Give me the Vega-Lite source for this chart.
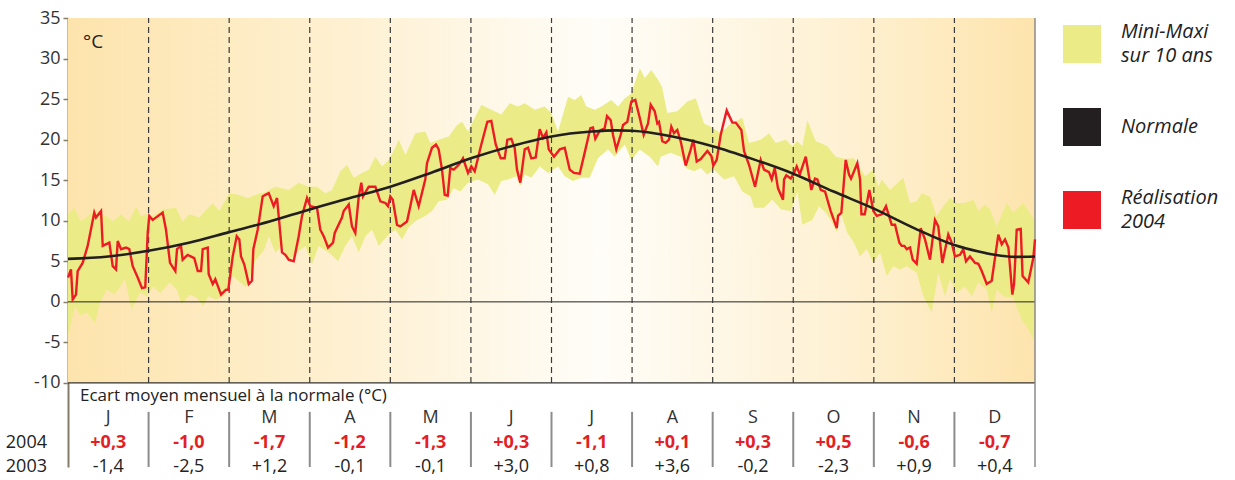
{
 "$schema": "https://vega.github.io/schema/vega-lite/v6.json",
 "width": 967, "height": 449,
 "autosize": {"type": "none"},
 "padding": {"left": 68, "top": 18, "right": 200, "bottom": 13},
 "background": "white",
 "config": {
  "font": "Open Sans",
  "view": {"stroke": null},
  "locale": {"number": {"decimal": ",", "thousands": " ", "grouping": [3], "currency": ["", " €"], "minus": "-"}}
 },
 "datasets": {
  "vide": [{}],
  "mois": [
   {"mois": "J", "debut": 0, "centre": 0.5, "e2004": 0.3, "e2003": -1.4},
   {"mois": "F", "debut": 1, "centre": 1.5, "e2004": -1.0, "e2003": -2.5},
   {"mois": "M", "debut": 2, "centre": 2.5, "e2004": -1.7, "e2003": 1.2},
   {"mois": "A", "debut": 3, "centre": 3.5, "e2004": -1.2, "e2003": -0.1},
   {"mois": "M", "debut": 4, "centre": 4.5, "e2004": -1.3, "e2003": -0.1},
   {"mois": "J", "debut": 5, "centre": 5.5, "e2004": 0.3, "e2003": 3.0},
   {"mois": "J", "debut": 6, "centre": 6.5, "e2004": -1.1, "e2003": 0.8},
   {"mois": "A", "debut": 7, "centre": 7.5, "e2004": 0.1, "e2003": 3.6},
   {"mois": "S", "debut": 8, "centre": 8.5, "e2004": 0.3, "e2003": -0.2},
   {"mois": "O", "debut": 9, "centre": 9.5, "e2004": 0.5, "e2003": -2.3},
   {"mois": "N", "debut": 10, "centre": 10.5, "e2004": -0.6, "e2003": 0.9},
   {"mois": "D", "debut": 11, "centre": 11.5, "e2004": -0.7, "e2003": 0.4}
  ],
  "normale": [
   {"t": 0, "v": 5.3}, {"t": 0.5, "v": 5.6}, {"t": 1, "v": 6.3}, {"t": 1.5, "v": 7.3}, {"t": 2, "v": 8.6}, {"t": 2.5, "v": 9.9}, {"t": 3, "v": 11.4}, {"t": 3.5, "v": 12.8}, {"t": 4, "v": 14.2}, {"t": 4.5, "v": 15.9}, {"t": 5, "v": 17.7}, {"t": 5.5, "v": 19.2}, {"t": 6, "v": 20.4}, {"t": 6.5, "v": 21.0}, {"t": 6.8, "v": 21.15}, {"t": 7, "v": 21.1}, {"t": 7.5, "v": 20.4}, {"t": 8, "v": 19.2}, {"t": 8.5, "v": 17.6}, {"t": 9, "v": 15.8}, {"t": 9.5, "v": 13.6}, {"t": 10, "v": 11.5}, {"t": 10.5, "v": 9.1}, {"t": 11, "v": 7.0}, {"t": 11.3, "v": 6.2}, {"t": 11.5, "v": 5.8}, {"t": 11.75, "v": 5.55}, {"t": 12, "v": 5.6}
  ],
  "maxi": [
   {"t": 0, "v": 10.8}, {"t": 0.078, "v": 11.6}, {"t": 0.161, "v": 9.9}, {"t": 0.223, "v": 10.4}, {"t": 0.326, "v": 11.3}, {"t": 0.472, "v": 10.6}, {"t": 0.555, "v": 9.9}, {"t": 0.658, "v": 10.8}, {"t": 0.761, "v": 9.9}, {"t": 0.844, "v": 11.8}, {"t": 0.906, "v": 10.6}, {"t": 0.968, "v": 10.8}, {"t": 1.051, "v": 10.6}, {"t": 1.175, "v": 11.4}, {"t": 1.34, "v": 11.6}, {"t": 1.423, "v": 9.9}, {"t": 1.505, "v": 10.8}, {"t": 1.629, "v": 10.4}, {"t": 1.796, "v": 12.2}, {"t": 1.878, "v": 11.2}, {"t": 2.002, "v": 13.4}, {"t": 2.106, "v": 13.2}, {"t": 2.23, "v": 12.8}, {"t": 2.333, "v": 13.2}, {"t": 2.436, "v": 13.5}, {"t": 2.573, "v": 14.2}, {"t": 2.656, "v": 14.0}, {"t": 2.739, "v": 13.8}, {"t": 2.863, "v": 14.7}, {"t": 2.987, "v": 14.2}, {"t": 3.09, "v": 14.2}, {"t": 3.193, "v": 13.4}, {"t": 3.276, "v": 13.8}, {"t": 3.379, "v": 16.1}, {"t": 3.462, "v": 16.9}, {"t": 3.546, "v": 15.3}, {"t": 3.649, "v": 15.9}, {"t": 3.732, "v": 16.3}, {"t": 3.814, "v": 17.9}, {"t": 3.897, "v": 16.7}, {"t": 3.98, "v": 17.5}, {"t": 4.062, "v": 19.0}, {"t": 4.104, "v": 20.0}, {"t": 4.186, "v": 18.1}, {"t": 4.31, "v": 20.8}, {"t": 4.434, "v": 21.0}, {"t": 4.496, "v": 19.6}, {"t": 4.6, "v": 20.0}, {"t": 4.725, "v": 20.4}, {"t": 4.828, "v": 21.8}, {"t": 4.89, "v": 22.2}, {"t": 4.964, "v": 21.0}, {"t": 5.129, "v": 24.3}, {"t": 5.253, "v": 23.7}, {"t": 5.377, "v": 23.1}, {"t": 5.482, "v": 24.5}, {"t": 5.584, "v": 24.1}, {"t": 5.668, "v": 24.5}, {"t": 5.792, "v": 23.7}, {"t": 5.916, "v": 24.1}, {"t": 5.998, "v": 23.3}, {"t": 6.081, "v": 21.0}, {"t": 6.205, "v": 25.3}, {"t": 6.288, "v": 24.9}, {"t": 6.37, "v": 25.5}, {"t": 6.432, "v": 24.1}, {"t": 6.536, "v": 23.7}, {"t": 6.618, "v": 24.1}, {"t": 6.742, "v": 24.9}, {"t": 6.826, "v": 24.1}, {"t": 6.909, "v": 25.1}, {"t": 6.991, "v": 25.7}, {"t": 7.095, "v": 28.8}, {"t": 7.157, "v": 27.6}, {"t": 7.239, "v": 28.6}, {"t": 7.322, "v": 27.4}, {"t": 7.372, "v": 26.5}, {"t": 7.437, "v": 23.3}, {"t": 7.561, "v": 23.5}, {"t": 7.686, "v": 24.7}, {"t": 7.79, "v": 25.1}, {"t": 7.893, "v": 22.0}, {"t": 7.976, "v": 21.6}, {"t": 8.1, "v": 20.8}, {"t": 8.216, "v": 21.9}, {"t": 8.368, "v": 22.7}, {"t": 8.451, "v": 19.6}, {"t": 8.596, "v": 20.0}, {"t": 8.699, "v": 20.8}, {"t": 8.782, "v": 19.6}, {"t": 8.907, "v": 20.0}, {"t": 8.988, "v": 19.2}, {"t": 9.051, "v": 19.8}, {"t": 9.113, "v": 19.2}, {"t": 9.175, "v": 22.4}, {"t": 9.279, "v": 19.8}, {"t": 9.341, "v": 19.6}, {"t": 9.423, "v": 19.2}, {"t": 9.527, "v": 17.9}, {"t": 9.651, "v": 17.6}, {"t": 9.754, "v": 17.7}, {"t": 9.891, "v": 15.5}, {"t": 9.994, "v": 16.3}, {"t": 10.056, "v": 14.2}, {"t": 10.098, "v": 15.1}, {"t": 10.201, "v": 13.8}, {"t": 10.366, "v": 15.3}, {"t": 10.449, "v": 12.2}, {"t": 10.532, "v": 12.4}, {"t": 10.594, "v": 13.4}, {"t": 10.697, "v": 13.0}, {"t": 10.78, "v": 10.6}, {"t": 10.862, "v": 11.8}, {"t": 10.946, "v": 12.8}, {"t": 11.029, "v": 12.2}, {"t": 11.132, "v": 12.2}, {"t": 11.235, "v": 12.6}, {"t": 11.297, "v": 11.2}, {"t": 11.38, "v": 12.0}, {"t": 11.442, "v": 11.4}, {"t": 11.525, "v": 9.3}, {"t": 11.649, "v": 12.2}, {"t": 11.731, "v": 11.0}, {"t": 11.855, "v": 12.2}, {"t": 11.959, "v": 10.6}, {"t": 12, "v": 10.1}
  ],
  "mini": [
   {"t": 0, "v": -4.2}, {"t": 0.087, "v": -0.5}, {"t": 0.149, "v": -1.7}, {"t": 0.232, "v": -1.3}, {"t": 0.335, "v": -2.6}, {"t": 0.397, "v": -0.1}, {"t": 0.48, "v": 1.5}, {"t": 0.583, "v": 0.9}, {"t": 0.707, "v": 2.8}, {"t": 0.791, "v": -0.9}, {"t": 0.894, "v": 1.2}, {"t": 0.977, "v": 0.7}, {"t": 1.059, "v": 1.9}, {"t": 1.142, "v": 1.1}, {"t": 1.266, "v": 2.4}, {"t": 1.349, "v": 1.5}, {"t": 1.411, "v": -0.3}, {"t": 1.514, "v": 0.9}, {"t": 1.597, "v": 0.5}, {"t": 1.679, "v": -0.5}, {"t": 1.741, "v": 0.7}, {"t": 1.837, "v": 0.3}, {"t": 1.95, "v": 0.8}, {"t": 2.044, "v": 3.2}, {"t": 2.209, "v": 1.8}, {"t": 2.333, "v": 5.2}, {"t": 2.43, "v": 6.3}, {"t": 2.491, "v": 8.1}, {"t": 2.573, "v": 6.1}, {"t": 2.656, "v": 6.9}, {"t": 2.739, "v": 5.0}, {"t": 2.842, "v": 6.1}, {"t": 2.945, "v": 6.9}, {"t": 3.028, "v": 4.6}, {"t": 3.111, "v": 6.9}, {"t": 3.235, "v": 6.1}, {"t": 3.351, "v": 5.0}, {"t": 3.441, "v": 6.9}, {"t": 3.524, "v": 8.1}, {"t": 3.608, "v": 6.1}, {"t": 3.69, "v": 8.1}, {"t": 3.773, "v": 8.9}, {"t": 3.856, "v": 6.9}, {"t": 3.959, "v": 8.1}, {"t": 4.062, "v": 8.9}, {"t": 4.145, "v": 7.7}, {"t": 4.228, "v": 9.2}, {"t": 4.331, "v": 10.1}, {"t": 4.434, "v": 10.6}, {"t": 4.517, "v": 11.2}, {"t": 4.6, "v": 12.4}, {"t": 4.703, "v": 12.6}, {"t": 4.787, "v": 14.0}, {"t": 4.87, "v": 13.6}, {"t": 4.964, "v": 14.7}, {"t": 5.088, "v": 15.1}, {"t": 5.212, "v": 14.5}, {"t": 5.295, "v": 13.2}, {"t": 5.377, "v": 14.9}, {"t": 5.46, "v": 15.1}, {"t": 5.563, "v": 15.5}, {"t": 5.61, "v": 14.3}, {"t": 5.668, "v": 15.7}, {"t": 5.75, "v": 15.3}, {"t": 5.854, "v": 16.7}, {"t": 5.956, "v": 15.9}, {"t": 6.081, "v": 16.7}, {"t": 6.164, "v": 15.5}, {"t": 6.267, "v": 14.9}, {"t": 6.37, "v": 15.3}, {"t": 6.474, "v": 15.3}, {"t": 6.577, "v": 17.7}, {"t": 6.701, "v": 18.8}, {"t": 6.784, "v": 17.9}, {"t": 6.909, "v": 19.4}, {"t": 6.991, "v": 17.5}, {"t": 7.095, "v": 18.8}, {"t": 7.219, "v": 17.9}, {"t": 7.322, "v": 16.7}, {"t": 7.355, "v": 17.9}, {"t": 7.479, "v": 18.4}, {"t": 7.603, "v": 17.9}, {"t": 7.666, "v": 16.5}, {"t": 7.769, "v": 16.1}, {"t": 7.852, "v": 16.5}, {"t": 7.934, "v": 15.7}, {"t": 8.017, "v": 16.3}, {"t": 8.141, "v": 15.1}, {"t": 8.265, "v": 15.5}, {"t": 8.368, "v": 13.6}, {"t": 8.472, "v": 13.0}, {"t": 8.513, "v": 11.6}, {"t": 8.637, "v": 11.6}, {"t": 8.74, "v": 12.6}, {"t": 8.85, "v": 11.4}, {"t": 8.969, "v": 11.2}, {"t": 9.051, "v": 13.6}, {"t": 9.113, "v": 9.5}, {"t": 9.237, "v": 10.1}, {"t": 9.32, "v": 11.8}, {"t": 9.403, "v": 11.0}, {"t": 9.465, "v": 10.1}, {"t": 9.54, "v": 8.6}, {"t": 9.589, "v": 11.0}, {"t": 9.671, "v": 8.5}, {"t": 9.754, "v": 7.3}, {"t": 9.829, "v": 5.6}, {"t": 9.912, "v": 6.5}, {"t": 9.994, "v": 4.8}, {"t": 10.077, "v": 6.1}, {"t": 10.16, "v": 3.2}, {"t": 10.242, "v": 4.4}, {"t": 10.325, "v": 4.0}, {"t": 10.408, "v": 4.4}, {"t": 10.532, "v": 3.6}, {"t": 10.615, "v": 0.7}, {"t": 10.718, "v": -1.3}, {"t": 10.8, "v": 3.6}, {"t": 10.883, "v": 0.7}, {"t": 10.946, "v": 2.8}, {"t": 11.029, "v": 1.1}, {"t": 11.132, "v": 1.9}, {"t": 11.214, "v": 0.7}, {"t": 11.297, "v": 2.4}, {"t": 11.401, "v": 1.5}, {"t": 11.463, "v": -1.3}, {"t": 11.525, "v": 1.5}, {"t": 11.607, "v": 0.7}, {"t": 11.731, "v": 0.5}, {"t": 11.835, "v": -2.2}, {"t": 11.897, "v": -3.0}, {"t": 11.979, "v": -4.6}, {"t": 12, "v": -3.0}
  ],
  "realisation": [
   {"t": 0, "v": 3.0}, {"t": 0.037, "v": 4.0}, {"t": 0.058, "v": 0.3}, {"t": 0.099, "v": 0.9}, {"t": 0.12, "v": 3.8}, {"t": 0.182, "v": 4.8}, {"t": 0.244, "v": 6.9}, {"t": 0.326, "v": 11.0}, {"t": 0.347, "v": 10.4}, {"t": 0.41, "v": 11.2}, {"t": 0.431, "v": 6.9}, {"t": 0.513, "v": 7.3}, {"t": 0.555, "v": 4.4}, {"t": 0.596, "v": 4.0}, {"t": 0.617, "v": 7.5}, {"t": 0.658, "v": 6.5}, {"t": 0.72, "v": 6.7}, {"t": 0.761, "v": 6.5}, {"t": 0.803, "v": 4.4}, {"t": 0.865, "v": 3.0}, {"t": 0.918, "v": 1.7}, {"t": 0.959, "v": 1.8}, {"t": 0.989, "v": 8.5}, {"t": 1.009, "v": 10.6}, {"t": 1.051, "v": 10.1}, {"t": 1.175, "v": 11.0}, {"t": 1.216, "v": 8.9}, {"t": 1.266, "v": 4.8}, {"t": 1.332, "v": 3.8}, {"t": 1.353, "v": 6.5}, {"t": 1.402, "v": 6.9}, {"t": 1.423, "v": 5.2}, {"t": 1.485, "v": 5.8}, {"t": 1.567, "v": 5.4}, {"t": 1.61, "v": 3.8}, {"t": 1.651, "v": 3.8}, {"t": 1.672, "v": 6.5}, {"t": 1.734, "v": 6.7}, {"t": 1.746, "v": 3.4}, {"t": 1.796, "v": 2.2}, {"t": 1.828, "v": 2.8}, {"t": 1.899, "v": 0.9}, {"t": 1.961, "v": 1.5}, {"t": 1.989, "v": 1.5}, {"t": 2.044, "v": 5.6}, {"t": 2.094, "v": 8.1}, {"t": 2.126, "v": 7.7}, {"t": 2.147, "v": 5.6}, {"t": 2.188, "v": 4.6}, {"t": 2.243, "v": 2.2}, {"t": 2.283, "v": 2.6}, {"t": 2.3, "v": 6.5}, {"t": 2.354, "v": 8.9}, {"t": 2.416, "v": 13.0}, {"t": 2.449, "v": 13.2}, {"t": 2.491, "v": 13.4}, {"t": 2.553, "v": 11.8}, {"t": 2.594, "v": 12.8}, {"t": 2.656, "v": 6.1}, {"t": 2.697, "v": 5.8}, {"t": 2.739, "v": 5.2}, {"t": 2.801, "v": 5.0}, {"t": 2.863, "v": 8.1}, {"t": 2.904, "v": 10.6}, {"t": 2.966, "v": 12.8}, {"t": 3.007, "v": 11.8}, {"t": 3.09, "v": 11.6}, {"t": 3.131, "v": 8.9}, {"t": 3.173, "v": 8.1}, {"t": 3.227, "v": 6.7}, {"t": 3.289, "v": 7.3}, {"t": 3.31, "v": 8.5}, {"t": 3.4, "v": 10.4}, {"t": 3.421, "v": 11.2}, {"t": 3.484, "v": 12.0}, {"t": 3.524, "v": 9.3}, {"t": 3.565, "v": 8.5}, {"t": 3.608, "v": 13.0}, {"t": 3.64, "v": 14.7}, {"t": 3.661, "v": 13.0}, {"t": 3.732, "v": 14.2}, {"t": 3.814, "v": 14.2}, {"t": 3.876, "v": 12.4}, {"t": 3.938, "v": 12.2}, {"t": 3.971, "v": 11.8}, {"t": 4.0, "v": 13.0}, {"t": 4.03, "v": 12.6}, {"t": 4.083, "v": 9.5}, {"t": 4.124, "v": 9.3}, {"t": 4.207, "v": 9.9}, {"t": 4.248, "v": 11.8}, {"t": 4.29, "v": 13.8}, {"t": 4.352, "v": 11.8}, {"t": 4.434, "v": 15.1}, {"t": 4.455, "v": 17.1}, {"t": 4.517, "v": 19.0}, {"t": 4.567, "v": 19.4}, {"t": 4.6, "v": 18.8}, {"t": 4.641, "v": 16.3}, {"t": 4.675, "v": 13.2}, {"t": 4.712, "v": 13.1}, {"t": 4.744, "v": 16.5}, {"t": 4.787, "v": 16.3}, {"t": 4.849, "v": 16.9}, {"t": 4.902, "v": 17.7}, {"t": 4.964, "v": 15.9}, {"t": 5.005, "v": 16.7}, {"t": 5.047, "v": 16.1}, {"t": 5.129, "v": 19.4}, {"t": 5.204, "v": 22.2}, {"t": 5.253, "v": 22.3}, {"t": 5.308, "v": 19.4}, {"t": 5.37, "v": 17.7}, {"t": 5.419, "v": 17.7}, {"t": 5.452, "v": 20.0}, {"t": 5.501, "v": 20.1}, {"t": 5.543, "v": 19.0}, {"t": 5.572, "v": 16.3}, {"t": 5.613, "v": 14.7}, {"t": 5.668, "v": 18.8}, {"t": 5.709, "v": 19.0}, {"t": 5.75, "v": 17.7}, {"t": 5.804, "v": 17.8}, {"t": 5.854, "v": 21.3}, {"t": 5.895, "v": 20.2}, {"t": 5.936, "v": 20.9}, {"t": 5.966, "v": 18.8}, {"t": 6.031, "v": 17.9}, {"t": 6.102, "v": 18.8}, {"t": 6.164, "v": 19.0}, {"t": 6.226, "v": 16.3}, {"t": 6.279, "v": 15.9}, {"t": 6.35, "v": 15.8}, {"t": 6.412, "v": 18.4}, {"t": 6.482, "v": 21.4}, {"t": 6.515, "v": 21.5}, {"t": 6.544, "v": 20.1}, {"t": 6.598, "v": 21.1}, {"t": 6.66, "v": 21.4}, {"t": 6.689, "v": 22.9}, {"t": 6.735, "v": 22.4}, {"t": 6.763, "v": 20.6}, {"t": 6.804, "v": 18.8}, {"t": 6.859, "v": 20.6}, {"t": 6.888, "v": 21.8}, {"t": 6.941, "v": 22.2}, {"t": 6.991, "v": 24.7}, {"t": 7.04, "v": 24.9}, {"t": 7.095, "v": 22.7}, {"t": 7.144, "v": 20.6}, {"t": 7.198, "v": 22.0}, {"t": 7.231, "v": 24.3}, {"t": 7.281, "v": 23.5}, {"t": 7.313, "v": 22.0}, {"t": 7.334, "v": 22.2}, {"t": 7.375, "v": 19.8}, {"t": 7.417, "v": 19.6}, {"t": 7.458, "v": 20.0}, {"t": 7.487, "v": 21.6}, {"t": 7.52, "v": 20.8}, {"t": 7.561, "v": 21.2}, {"t": 7.603, "v": 19.8}, {"t": 7.666, "v": 16.8}, {"t": 7.728, "v": 18.8}, {"t": 7.76, "v": 20.0}, {"t": 7.802, "v": 17.3}, {"t": 7.852, "v": 17.6}, {"t": 7.934, "v": 18.6}, {"t": 7.983, "v": 18.0}, {"t": 8.008, "v": 16.8}, {"t": 8.05, "v": 17.5}, {"t": 8.1, "v": 20.6}, {"t": 8.174, "v": 23.6}, {"t": 8.244, "v": 22.1}, {"t": 8.286, "v": 22.1}, {"t": 8.356, "v": 21.2}, {"t": 8.389, "v": 18.6}, {"t": 8.451, "v": 16.9}, {"t": 8.526, "v": 14.2}, {"t": 8.596, "v": 17.5}, {"t": 8.637, "v": 16.3}, {"t": 8.699, "v": 16.0}, {"t": 8.733, "v": 15.1}, {"t": 8.77, "v": 16.5}, {"t": 8.811, "v": 14.0}, {"t": 8.873, "v": 12.6}, {"t": 8.886, "v": 15.1}, {"t": 8.914, "v": 15.6}, {"t": 8.969, "v": 15.2}, {"t": 9.01, "v": 15.9}, {"t": 9.043, "v": 16.7}, {"t": 9.081, "v": 15.7}, {"t": 9.155, "v": 17.9}, {"t": 9.224, "v": 13.8}, {"t": 9.27, "v": 15.2}, {"t": 9.299, "v": 15.1}, {"t": 9.341, "v": 13.8}, {"t": 9.395, "v": 13.6}, {"t": 9.465, "v": 11.2}, {"t": 9.54, "v": 9.1}, {"t": 9.556, "v": 10.6}, {"t": 9.597, "v": 11.0}, {"t": 9.651, "v": 17.5}, {"t": 9.692, "v": 15.7}, {"t": 9.717, "v": 15.2}, {"t": 9.795, "v": 17.1}, {"t": 9.829, "v": 15.1}, {"t": 9.846, "v": 10.8}, {"t": 9.887, "v": 10.8}, {"t": 9.944, "v": 13.8}, {"t": 9.994, "v": 11.2}, {"t": 10.036, "v": 10.6}, {"t": 10.098, "v": 10.8}, {"t": 10.151, "v": 11.8}, {"t": 10.222, "v": 9.5}, {"t": 10.263, "v": 9.5}, {"t": 10.317, "v": 7.3}, {"t": 10.346, "v": 6.9}, {"t": 10.379, "v": 6.9}, {"t": 10.408, "v": 6.5}, {"t": 10.449, "v": 6.7}, {"t": 10.483, "v": 5.2}, {"t": 10.532, "v": 4.7}, {"t": 10.582, "v": 9.1}, {"t": 10.635, "v": 7.7}, {"t": 10.697, "v": 5.2}, {"t": 10.759, "v": 10.1}, {"t": 10.8, "v": 9.3}, {"t": 10.85, "v": 4.8}, {"t": 10.924, "v": 8.3}, {"t": 10.966, "v": 7.3}, {"t": 11.007, "v": 5.6}, {"t": 11.069, "v": 5.8}, {"t": 11.11, "v": 6.5}, {"t": 11.144, "v": 5.0}, {"t": 11.193, "v": 5.6}, {"t": 11.256, "v": 4.8}, {"t": 11.297, "v": 4.7}, {"t": 11.339, "v": 3.8}, {"t": 11.401, "v": 2.2}, {"t": 11.463, "v": 2.6}, {"t": 11.545, "v": 8.3}, {"t": 11.587, "v": 7.1}, {"t": 11.628, "v": 7.7}, {"t": 11.67, "v": 6.7}, {"t": 11.719, "v": 0.9}, {"t": 11.74, "v": 2.2}, {"t": 11.773, "v": 8.9}, {"t": 11.823, "v": 9.0}, {"t": 11.846, "v": 3.2}, {"t": 11.916, "v": 2.4}, {"t": 11.958, "v": 4.4}, {"t": 11.979, "v": 5.4}, {"t": 12, "v": 7.7}
  ]
 },
 "layer": [
  {
   "data": {"name": "vide"},
   "mark": {"type": "rect", "color": {"gradient": "linear", "x1": 0, "y1": 0, "x2": 1, "y2": 0, "stops": [{"offset": 0, "color": "#fde4ad"}, {"offset": 0.3, "color": "#fef1d3"}, {"offset": 0.55, "color": "#fffdf8"}, {"offset": 0.8, "color": "#fef1d3"}, {"offset": 1, "color": "#fde4ad"}]}},
   "encoding": {
    "x": {"datum": 0, "type": "quantitative", "scale": {"domain": [0, 12], "nice": false, "zero": false}, "axis": null},
    "x2": {"datum": 12},
    "y": {"datum": -10, "type": "quantitative", "scale": {"domain": [-20.36, 35], "nice": false, "zero": false},
     "axis": {"values": [-10, -5, 0, 5, 10, 15, 20, 25, 30, 35], "title": null, "grid": false, "domainColor": "#857c6a", "domainWidth": 2, "tickColor": "#857c6a", "tickWidth": 1.5, "tickSize": 5, "labelFontSize": 18, "labelColor": "#333333", "labelPadding": 3}},
    "y2": {"datum": 35}
   }
  },
  {
   "data": {"name": "maxi"},
   "mark": {"type": "area", "opacity": 1},
   "encoding": {
    "x": {"field": "t", "type": "quantitative"},
    "y": {"field": "v", "type": "quantitative"},
    "y2": {"datum": -10},
    "fill": {"datum": "Mini-Maxi|sur 10 ans", "type": "nominal",
     "scale": {"domain": ["Mini-Maxi|sur 10 ans", "Normale", "Réalisation|2004"], "range": ["#ebec87", "#231f20", "#ed1c24"]},
     "legend": {"orient": "none", "legendX": 995, "legendY": 7, "title": null, "padding": 0, "symbolType": "square", "symbolSize": 1444, "symbolStrokeWidth": 0, "symbolOpacity": 1, "labelExpr": "split(datum.label, '|')", "labelFontSize": 20, "labelFontStyle": "italic", "labelColor": "#222222", "labelOffset": 20, "labelLimit": 300, "rowPadding": 42,
      "encode": {"labels": {"update": {"dy": {"signal": "indexof(datum.label, '|') >= 0 ? -12 : 0"}, "lineHeight": {"value": 24}}}}}}
   }
  },
  {
   "data": {"name": "mini"},
   "mark": {"type": "area", "opacity": 1, "color": {"gradient": "linear", "x1": 0, "y1": 0, "x2": 1, "y2": 0, "stops": [{"offset": 0, "color": "#fde4ad"}, {"offset": 0.3, "color": "#fef1d3"}, {"offset": 0.55, "color": "#fffdf8"}, {"offset": 0.8, "color": "#fef1d3"}, {"offset": 1, "color": "#fde4ad"}]}},
   "encoding": {
    "x": {"field": "t", "type": "quantitative"},
    "y": {"field": "v", "type": "quantitative"},
    "y2": {"datum": -10}
   }
  },
  {
   "data": {"name": "vide"},
   "mark": {"type": "rule", "color": "#222222", "strokeWidth": 1},
   "encoding": {"x": {"datum": 0}, "x2": {"datum": 12}, "y": {"datum": 0}}
  },
  {
   "data": {"name": "vide"},
   "mark": {"type": "rule", "color": "#333333", "strokeWidth": 1.3},
   "encoding": {"x": {"datum": 0}, "x2": {"datum": 12}, "y": {"datum": -10}}
  },
  {
   "data": {"name": "vide"},
   "mark": {"type": "rule", "color": "#8a8a8a", "strokeWidth": 1.5},
   "encoding": {"x": {"datum": 12}, "y": {"datum": -20.36}, "y2": {"datum": 35}}
  },
  {
   "data": {"name": "mois"},
   "transform": [{"filter": "datum.debut > 0"}],
   "mark": {"type": "rule", "color": "#3a3a3a", "strokeWidth": 1.2, "strokeDash": [6, 4]},
   "encoding": {"x": {"field": "debut", "type": "quantitative"}, "y": {"datum": -10}, "y2": {"datum": 35}}
  },
  {
   "data": {"name": "mois"},
   "transform": [{"filter": "datum.debut > 0"}],
   "mark": {"type": "rule", "color": "#8c8c8c", "strokeWidth": 2},
   "encoding": {"x": {"field": "debut", "type": "quantitative"}, "y": {"datum": -13.56}, "y2": {"datum": -20.36}}
  },
  {
   "data": {"name": "realisation"},
   "mark": {"type": "line", "color": "#ed1c24", "strokeWidth": 2.4},
   "encoding": {"x": {"field": "t", "type": "quantitative"}, "y": {"field": "v", "type": "quantitative"}}
  },
  {
   "data": {"name": "normale"},
   "mark": {"type": "line", "color": "#231f20", "strokeWidth": 2.6, "interpolate": "monotone"},
   "encoding": {"x": {"field": "t", "type": "quantitative"}, "y": {"field": "v", "type": "quantitative"}}
  },
  {
   "data": {"name": "vide"},
   "mark": {"type": "text", "text": "°C", "align": "left", "baseline": "middle", "dx": 15, "dy": 24, "fontSize": 19, "color": "#222222"},
   "encoding": {"x": {"datum": 0}, "y": {"datum": 35}}
  },
  {
   "data": {"name": "vide"},
   "mark": {"type": "text", "text": "Ecart moyen mensuel à la normale (°C)", "align": "left", "baseline": "middle", "dx": 12, "fontSize": 17, "color": "#222222"},
   "encoding": {"x": {"datum": 0}, "y": {"datum": -11.6}}
  },
  {
   "data": {"name": "mois"},
   "mark": {"type": "text", "align": "center", "baseline": "middle", "fontSize": 18, "color": "#333333"},
   "encoding": {"x": {"field": "centre", "type": "quantitative"}, "y": {"datum": -14.3}, "text": {"field": "mois"}}
  },
  {
   "data": {"name": "mois"},
   "mark": {"type": "text", "align": "center", "baseline": "middle", "fontSize": 18, "fontWeight": "bold", "color": "#e31e24"},
   "encoding": {"x": {"field": "centre", "type": "quantitative"}, "y": {"datum": -17.4}, "text": {"field": "e2004", "type": "quantitative", "format": "+.1f"}}
  },
  {
   "data": {"name": "mois"},
   "mark": {"type": "text", "align": "center", "baseline": "middle", "fontSize": 18, "color": "#222222"},
   "encoding": {"x": {"field": "centre", "type": "quantitative"}, "y": {"datum": -20.3}, "text": {"field": "e2003", "type": "quantitative", "format": "+.1f"}}
  },
  {
   "data": {"name": "vide"},
   "mark": {"type": "text", "text": "2004", "align": "right", "baseline": "middle", "dx": -21, "fontSize": 18, "color": "#222222"},
   "encoding": {"x": {"datum": 0}, "y": {"datum": -17.4}}
  },
  {
   "data": {"name": "vide"},
   "mark": {"type": "text", "text": "2003", "align": "right", "baseline": "middle", "dx": -21, "fontSize": 18, "color": "#222222"},
   "encoding": {"x": {"datum": 0}, "y": {"datum": -20.3}}
  }
 ]
}
